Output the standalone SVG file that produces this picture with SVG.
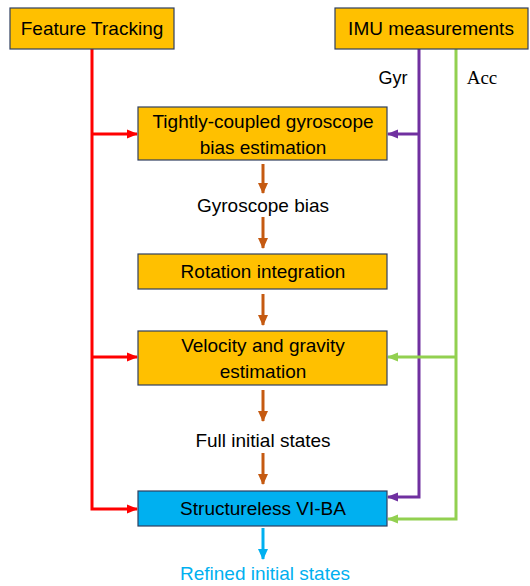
<svg xmlns="http://www.w3.org/2000/svg" width="530" height="586" viewBox="0 0 530 586">
<defs>
<style>
.box{stroke:#2F3F5F;stroke-width:1.2}
.org{fill:#FFC000}
.blu{fill:#00B0F0}
.t{font-family:"Liberation Sans",Arial,sans-serif;font-size:19px;fill:#000;text-anchor:middle}
.ln{fill:none;stroke-width:3}
</style>
<marker id="aR" markerWidth="12" markerHeight="12" refX="10" refY="6" orient="auto" markerUnits="userSpaceOnUse"><path d="M0,1.5 L11,6 L0,10.5 Z" fill="#FF0000"/></marker>
<marker id="aP" markerWidth="12" markerHeight="12" refX="10" refY="6" orient="auto" markerUnits="userSpaceOnUse"><path d="M0,1.5 L11,6 L0,10.5 Z" fill="#7030A0"/></marker>
<marker id="aG" markerWidth="12" markerHeight="12" refX="10" refY="6" orient="auto" markerUnits="userSpaceOnUse"><path d="M0,1.5 L11,6 L0,10.5 Z" fill="#92D050"/></marker>
<marker id="aB" markerWidth="12" markerHeight="12" refX="10" refY="6" orient="auto" markerUnits="userSpaceOnUse"><path d="M0,1 L11,6 L0,11 Z" fill="#C55A11"/></marker>
<marker id="aC" markerWidth="12" markerHeight="12" refX="10" refY="6" orient="auto" markerUnits="userSpaceOnUse"><path d="M0,1 L11,6 L0,11 Z" fill="#00B0F0"/></marker>
</defs>
<rect width="530" height="586" fill="#fff"/>
<g id="connectors">
<path class="ln" stroke="#FF0000" d="M92,49 V509 H137" marker-end="url(#aR)"/>
<path class="ln" stroke="#FF0000" d="M92,134 H137" marker-end="url(#aR)"/>
<path class="ln" stroke="#FF0000" d="M92,357 H137" marker-end="url(#aR)"/>
<path class="ln" stroke="#7030A0" d="M419,49 V497 H388" marker-end="url(#aP)"/>
<path class="ln" stroke="#7030A0" d="M419,134 H388" marker-end="url(#aP)"/>
<path class="ln" stroke="#92D050" d="M456,49 V519 H388" marker-end="url(#aG)"/>
<path class="ln" stroke="#92D050" d="M456,357 H388" marker-end="url(#aG)"/>
<path class="ln" stroke="#C55A11" d="M263,164 V193" marker-end="url(#aB)"/>
<path class="ln" stroke="#C55A11" d="M263,217 V248" marker-end="url(#aB)"/>
<path class="ln" stroke="#C55A11" d="M263,294 V325" marker-end="url(#aB)"/>
<path class="ln" stroke="#C55A11" d="M263,390 V421" marker-end="url(#aB)"/>
<path class="ln" stroke="#C55A11" d="M263,453 V484" marker-end="url(#aB)"/>
<path class="ln" stroke="#00B0F0" d="M263,528 V559" marker-end="url(#aC)"/>
<text x="393" y="84" class="t" font-size="17" style="font-size:18px">Gyr</text>
<text x="482" y="84" style="font-family:'Liberation Serif',serif;font-size:19px;text-anchor:middle">Acc</text>
</g>
<g id="feature-tracking">
<rect class="box org" x="10" y="8" width="164" height="41"/>
<text class="t" x="92" y="35">Feature Tracking</text>
</g>
<g id="imu">
<rect class="box org" x="335" y="8" width="193" height="41"/>
<text class="t" x="431" y="35">IMU measurements</text>
</g>
<g id="gyro-bias-est">
<rect class="box org" x="138" y="107" width="249" height="53"/>
<text class="t" x="263" y="128">Tightly-coupled gyroscope</text>
<text class="t" x="263" y="154">bias estimation</text>
</g>
<g id="gyro-bias-label">
<text class="t" x="263" y="212">Gyroscope bias</text>
</g>
<g id="rotation">
<rect class="box org" x="138" y="254" width="249" height="35"/>
<text class="t" x="263" y="278">Rotation integration</text>
</g>
<g id="velocity-gravity">
<rect class="box org" x="138" y="331" width="249" height="54"/>
<text class="t" x="263" y="352">Velocity and gravity</text>
<text class="t" x="263" y="378">estimation</text>
</g>
<g id="full-states-label">
<text class="t" x="263" y="447">Full initial states</text>
</g>
<g id="vi-ba">
<rect class="box blu" x="138" y="491" width="249" height="35"/>
<text class="t" x="263" y="515">Structureless VI-BA</text>
</g>
<g id="refined-label">
<text class="t" x="265" y="580" style="fill:#00B0F0">Refined initial states</text>
</g>
</svg>
